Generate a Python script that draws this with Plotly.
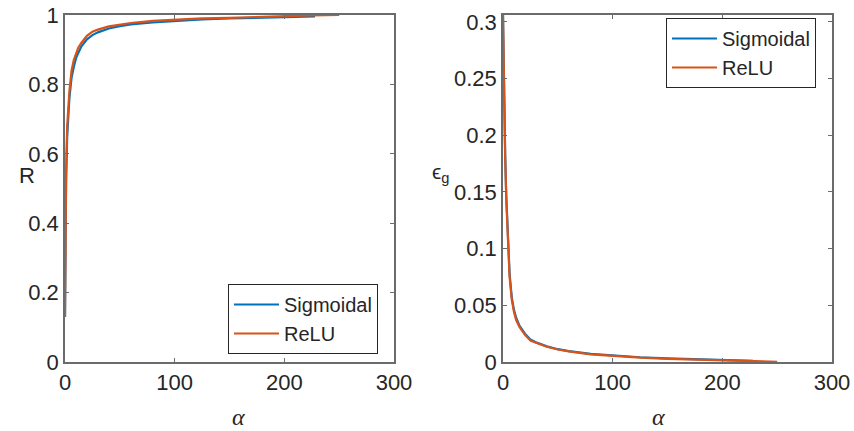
import plotly.graph_objects as go

# ---- data ----
alpha_sig = [0, 0.5, 1, 2, 3, 4, 5, 6, 8, 10, 12, 15, 20, 25, 30, 40, 50, 60, 80, 100, 125, 150, 175, 200, 228]
alpha_relu = [0, 0.5, 1, 2, 3, 4, 5, 6, 8, 10, 12, 15, 20, 25, 30, 40, 50, 60, 80, 100, 125, 150, 175, 200, 225, 250]

R_sig = [0.13, 0.38, 0.52, 0.65, 0.72, 0.76, 0.79, 0.82, 0.85, 0.875, 0.89, 0.91, 0.93, 0.942, 0.95,
         0.961, 0.968, 0.973, 0.979, 0.983, 0.987, 0.99, 0.992, 0.994, 0.996]
R_relu = [0.13, 0.40, 0.55, 0.68, 0.74, 0.78, 0.81, 0.84, 0.87, 0.89, 0.905, 0.92, 0.94, 0.952, 0.958,
          0.967, 0.973, 0.977, 0.983, 0.987, 0.99, 0.992, 0.995, 0.997, 0.999, 1.0]

eg_sig = [0.306, 0.27, 0.233, 0.182, 0.146, 0.118, 0.095, 0.078, 0.057, 0.046, 0.039, 0.032, 0.025, 0.0198,
          0.0175, 0.0138, 0.0113, 0.0096, 0.0071, 0.0056, 0.0042, 0.0032, 0.0024, 0.0017, 0.001]
eg_relu = [0.306, 0.27, 0.232, 0.18, 0.143, 0.115, 0.092, 0.075, 0.055, 0.044, 0.037, 0.031, 0.024, 0.019,
           0.017, 0.0135, 0.011, 0.0093, 0.0068, 0.0053, 0.0038, 0.0028, 0.002, 0.0014, 0.0008, 0.0002]

x_ticks = [0, 100, 200, 300]
R_ticks = [0, 0.2, 0.4, 0.6, 0.8, 1]
eg_ticks = [0, 0.05, 0.1, 0.15, 0.2, 0.25, 0.3]

BLUE = "#0072BD"
ORANGE = "#D95319"
AX = "#6b6b6b"
TXT = "#262626"
W, H = 854, 431

fig = go.Figure()
fig.add_trace(go.Scatter(x=alpha_sig, y=R_sig, mode="lines", name="Sigmoidal",
                         line=dict(color=BLUE, width=2.2), xaxis="x", yaxis="y", legend="legend"))
fig.add_trace(go.Scatter(x=alpha_relu, y=R_relu, mode="lines", name="ReLU",
                         line=dict(color=ORANGE, width=2.2), xaxis="x", yaxis="y", legend="legend"))
fig.add_trace(go.Scatter(x=alpha_sig, y=eg_sig, mode="lines", name="Sigmoidal",
                         line=dict(color=BLUE, width=2.2), xaxis="x2", yaxis="y2", legend="legend2"))
fig.add_trace(go.Scatter(x=alpha_relu, y=eg_relu, mode="lines", name="ReLU",
                         line=dict(color=ORANGE, width=2.2), xaxis="x2", yaxis="y2", legend="legend2"))

ax_common = dict(showline=True, mirror="ticks", linecolor=AX, linewidth=1.5,
                 ticks="inside", ticklen=4, tickcolor=AX, tickwidth=1,
                 showgrid=False, zeroline=False, automargin=False,
                 tickfont=dict(family="Liberation Sans, Arial", size=22, color=TXT))

ydom = [1 - 362 / H, 1 - 15 / H]
leg_font = dict(family="Liberation Sans, Arial", size=20, color=TXT)
fig.update_layout(
    width=W, height=H,
    margin=dict(l=0, r=0, t=0, b=0, autoexpand=False),
    paper_bgcolor="white", plot_bgcolor="white",
    xaxis=dict(domain=[65 / W, 394 / W], range=[0, 300], tickvals=x_ticks, anchor="y", **ax_common),
    yaxis=dict(domain=ydom, range=[0, 1], tickvals=R_ticks, anchor="x", **ax_common),
    xaxis2=dict(domain=[503 / W, 832 / W], range=[0, 300], tickvals=x_ticks, anchor="y2", **ax_common),
    yaxis2=dict(domain=ydom, range=[0, 0.306], tickvals=eg_ticks, anchor="x2", **ax_common),
    legend=dict(x=228 / W, y=1 - 319 / H, xanchor="left", yanchor="middle",
                bgcolor="white", bordercolor=TXT, borderwidth=1, itemwidth=45, font=leg_font),
    legend2=dict(x=666 / W, y=1 - 53 / H, xanchor="left", yanchor="middle",
                 bgcolor="white", bordercolor=TXT, borderwidth=1, itemwidth=45, font=leg_font),
    showlegend=True,
)

ann_font = dict(family="Liberation Sans, Arial", size=22, color=TXT)
fig.add_annotation(x=17 / W, y=1 - 175 / H, xref="paper", yref="paper", text="R",
                   showarrow=False, font=ann_font)
fig.add_annotation(x=440 / W, y=1 - 173 / H, xref="paper", yref="paper", text="ϵ<sub>g</sub>",
                   showarrow=False, font=dict(family="Liberation Sans, Arial", size=21, color=TXT))
for xc in (230, 667):
    fig.add_annotation(x=xc / W, y=1 - 420 / H, xref="paper", yref="paper", text="<i>α</i>",
                       showarrow=False, yshift=-12,
                       font=dict(family="Liberation Serif, Times New Roman", size=24, color=TXT))

fig.write_html("out.html", config={"displayModeBar": False},
               post_script="document.body.style.margin='0';document.body.style.overflow='hidden';")
